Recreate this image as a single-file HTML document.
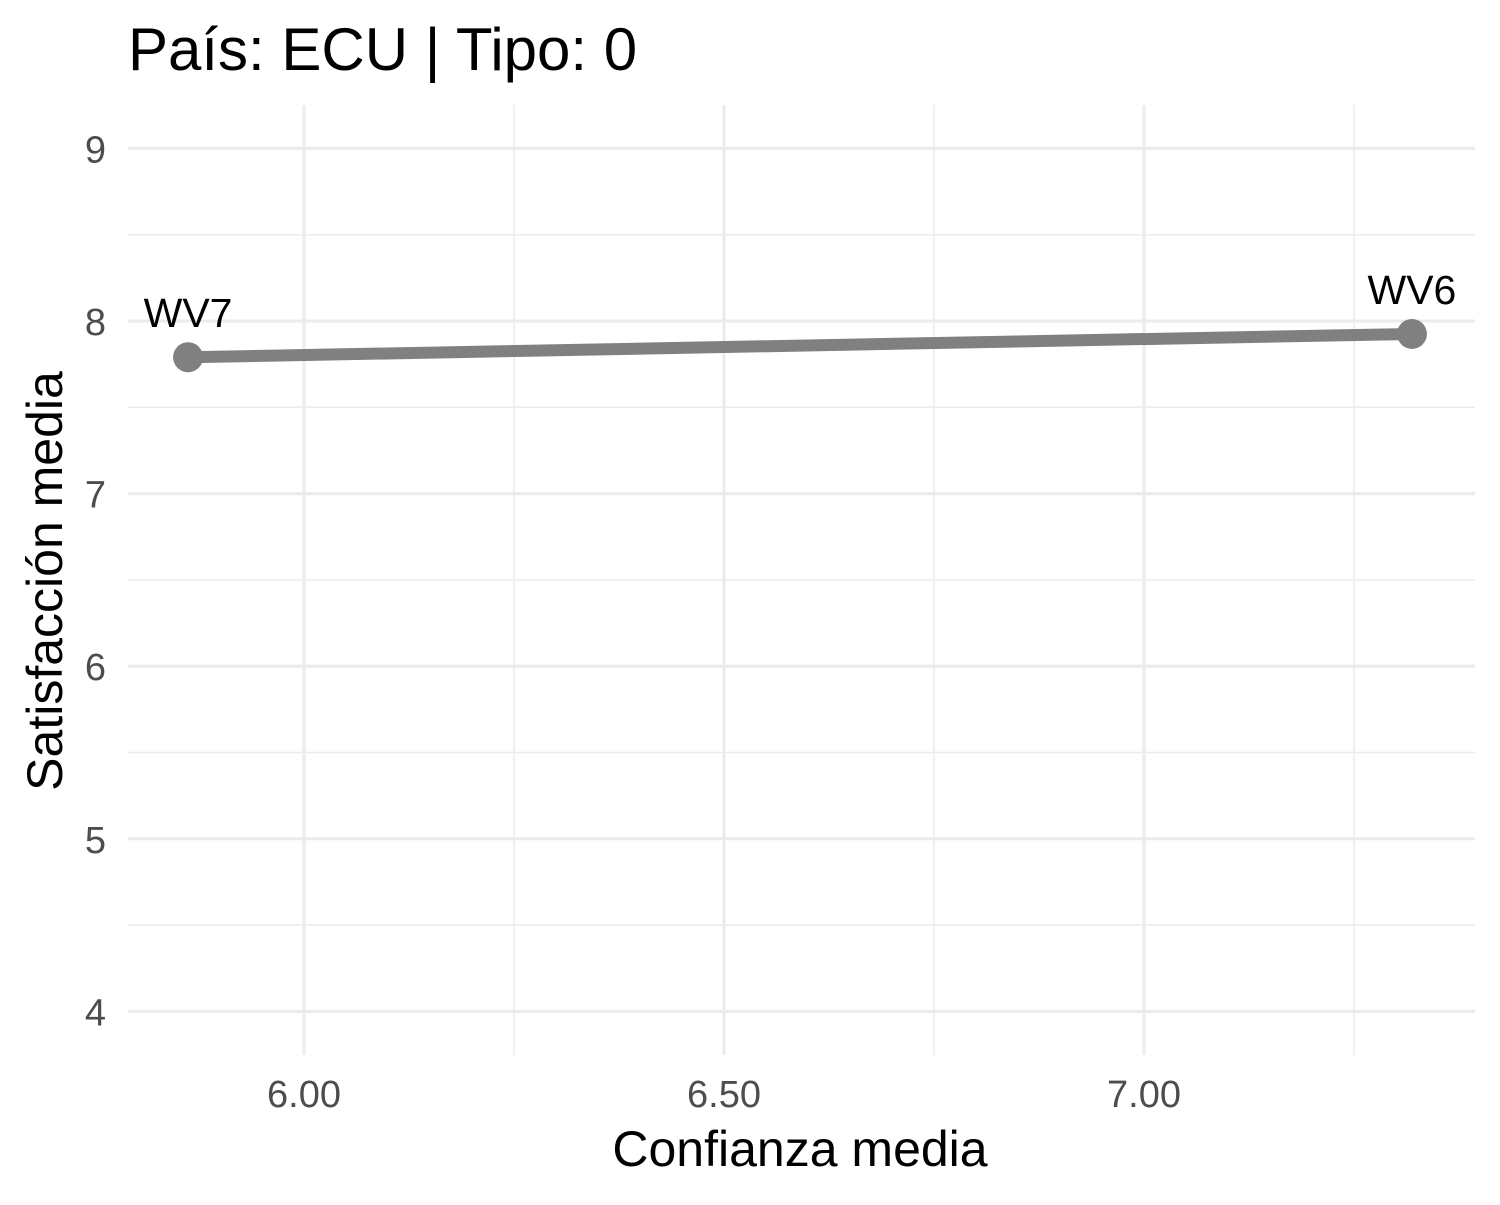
<!DOCTYPE html>
<html><head><meta charset="utf-8">
<style>
html,body{margin:0;padding:0;background:#fff;}
svg text{font-family:"Liberation Sans",Arial,sans-serif;}
</style></head>
<body>
<svg id="chart" width="1500" height="1200" xmlns="http://www.w3.org/2000/svg">
<rect width="1500" height="1200" fill="#fff"/>
<g id="grid"></g>
<g id="marks"></g>
<g id="ticks"></g>
<text x="128" y="70" font-size="60" fill="#000">País: ECU | Tipo: 0</text>
<text x="800" y="1166" font-size="50" text-anchor="middle" fill="#000">Confianza media</text>
<text transform="translate(62,581) rotate(-90)" font-size="50" text-anchor="middle" fill="#000">Satisfacción media</text>
</svg>
<script>
const labels = ["WV7","WV6"];
const confianza = [5.862, 7.319];
const satisfaccion = [7.79, 7.925];
const xTicks = [6.0, 6.5, 7.0];
const xTickLabels = ["6.00","6.50","7.00"];
const yTicks = [4,5,6,7,8,9];

const NS="http://www.w3.org/2000/svg";
const X0=128,X1=1475,Y0=105,Y1=1055;
function xs(v){return 304+(v-6)*840;}
function ys(v){return 321-(v-8)*172.6;}
function mk(tag,attrs,parent){const e=document.createElementNS(NS,tag);for(const k in attrs)e.setAttribute(k,attrs[k]);parent.appendChild(e);return e;}
const grid=document.getElementById('grid'),marks=document.getElementById('marks'),ticks=document.getElementById('ticks');
for(let i=0;i<xTicks.length;i++){
  const xm=xs(xTicks[i]+0.25);
  const l=mk('line',{x1:xm,x2:xm,y1:Y0,y2:Y1,stroke:'#ebebeb','stroke-width':1.5},grid);
  
  
}
for(let i=0;i<yTicks.length-1;i++){
  const ym=ys(yTicks[i]+0.5);
  const l=mk('line',{x1:X0,x2:X1,y1:ym,y2:ym,stroke:'#ebebeb','stroke-width':1.5},grid);
  
  
}
xTicks.forEach((v,i)=>{
  const l=mk('line',{x1:xs(v),x2:xs(v),y1:Y0,y2:Y1,stroke:'#ebebeb','stroke-width':3},grid);
  
  
  const t=mk('text',{x:xs(v),y:1107,'font-size':38,'text-anchor':'middle',fill:'#4d4d4d'},ticks);
  t.textContent=xTickLabels[i];
  
  
});
yTicks.forEach(v=>{
  const l=mk('line',{x1:X0,x2:X1,y1:ys(v),y2:ys(v),stroke:'#ebebeb','stroke-width':3},grid);
  
  
  const t=mk('text',{x:106,y:ys(v)+14,'font-size':38,'text-anchor':'end',fill:'#4d4d4d'},ticks);
  t.textContent=String(v);
  
  
});
const pl=mk('polyline',{points:confianza.map((c,i)=>xs(c)+','+ys(satisfaccion[i])).join(' '),fill:'none',stroke:'#808080','stroke-width':12},marks);


confianza.forEach((c,i)=>{
  const p=mk('circle',{cx:xs(c),cy:ys(satisfaccion[i]),r:15,fill:'#808080'},marks);
  
  
  const t=mk('text',{x:xs(c),y:ys(satisfaccion[i])-30,'font-size':41,'text-anchor':'middle',fill:'#000'},marks);
  t.textContent=labels[i];
  
  
});
</script>
</body></html>
